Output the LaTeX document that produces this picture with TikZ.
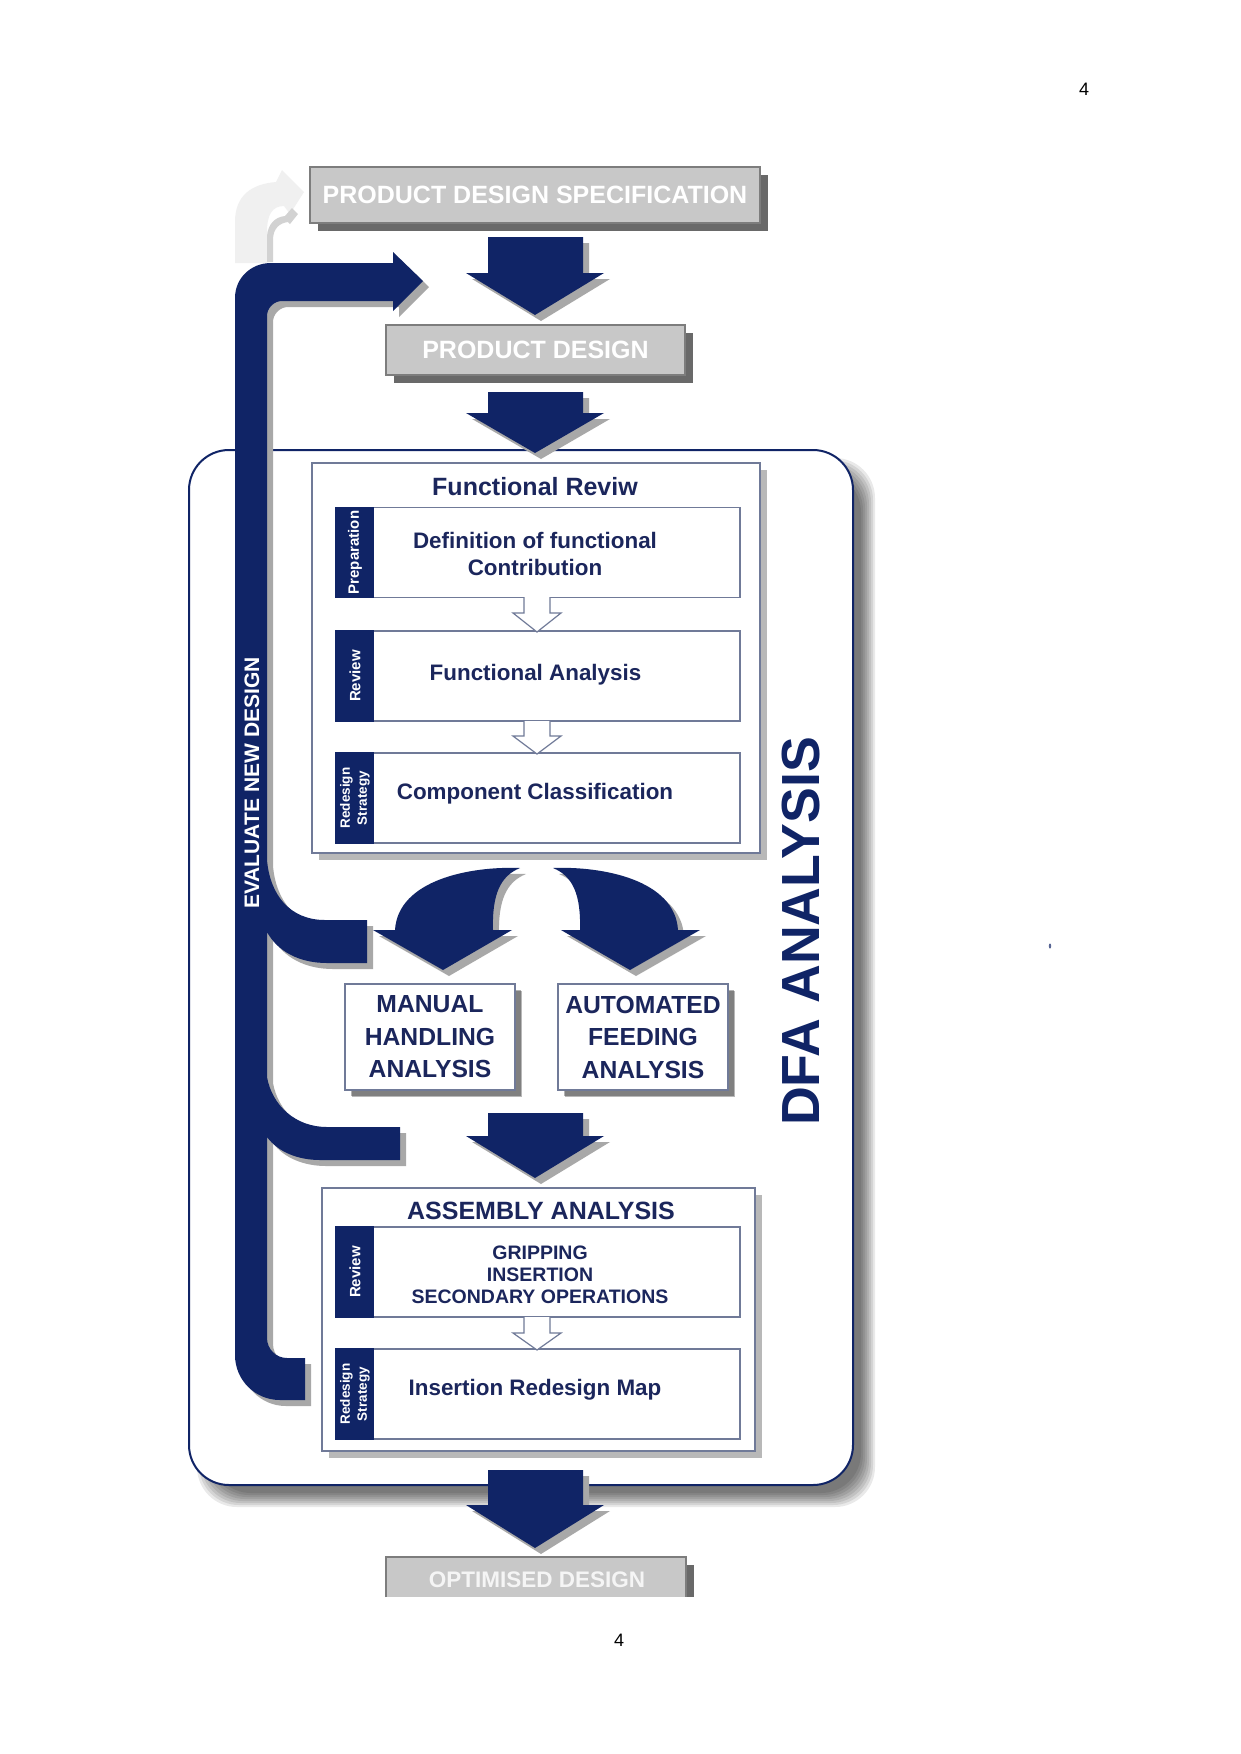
\documentclass[tikz,border=0pt]{standalone}
\usepackage{fontspec}
\setmainfont{Liberation Sans}
\usetikzlibrary{shadows,calc}

\definecolor{dfanavy}{RGB}{16,36,102}
\definecolor{dfatext}{RGB}{27,38,92}
\definecolor{boxline}{RGB}{112,122,152}
\definecolor{greyfill}{RGB}{200,200,200}
\definecolor{greyline}{RGB}{125,125,125}
\definecolor{greyshade}{RGB}{105,105,105}
\definecolor{arrowshade}{RGB}{168,168,168}

\begin{document}
\begin{tikzpicture}[
    x=1pt, y=-1pt,
    graybox/.style={draw=greyline, fill=greyfill, line width=1.2pt, inner sep=0pt, text=white,
      font=\fontsize{25}{28}\selectfont\bfseries,
      drop shadow={shadow xshift=8pt, shadow yshift=-8pt, fill=greyshade, opacity=1}},
    panel/.style={draw=boxline, fill=white, line width=1.2pt, inner sep=0pt,
      drop shadow={shadow xshift=7pt, shadow yshift=-7pt, fill=black, opacity=.28}},
    stage/.style={draw=boxline, fill=white, line width=1.2pt, inner sep=0pt,
      minimum width=404pt, minimum height=90pt},
    tabfill/.style={fill=dfanavy},
    tablabel/.style={rotate=90, text=white, font=\fontsize{15}{17}\selectfont\bfseries, align=center},
    steptext/.style={text=dfatext, font=\fontsize{22.4}{27}\selectfont\bfseries, align=center},
    heading/.style={text=dfatext, font=\fontsize{25}{28}\selectfont\bfseries},
    capsbox/.style={panel, minimum width=170pt, minimum height=106pt, align=center,
      text=dfatext, font=\fontsize{24.7}{32.5}\selectfont\bfseries,
      drop shadow={shadow xshift=6pt, shadow yshift=-6pt, fill=black, opacity=.3}},
    flow/.style={fill=dfanavy, preaction={fill=arrowshade, transform canvas={xshift=6pt, yshift=-6pt}}},
    hollow/.style={draw=boxline, fill=white, line width=1.2pt, line join=miter}
  ]
  \useasboundingbox (0,0) rectangle (1241,1754);
  \fill[white] (0,0) rectangle (1241,1754);

  % DFA frame with soft shadow
  \foreach \e in {0,2,...,14}
    \fill[black, opacity=.085, rounded corners=40pt] (211-\e,472-\e) rectangle (861+\e,1493+\e);
  \node[draw=dfanavy, line width=2pt, fill=white, rounded corners=40pt, inner sep=0pt,
        minimum width=664pt, minimum height=1035pt] (dfa) at (521,967.5) {};
  \node[rotate=90, text=dfanavy, font=\fontsize{53.7}{60}\selectfont\bfseries] (dfalabel) at (801.5,931.5) {DFA ANALYSIS};

  % grey boxes
  \node[graybox, minimum width=450pt, minimum height=56pt] (pds) at (535,195) {PRODUCT DESIGN SPECIFICATION};
  \node[graybox, minimum width=299pt, minimum height=50pt] (pd) at (535.5,350) {PRODUCT DESIGN};
  \fill[greyshade] (686,1565) rectangle (694,1597);
  \fill[greyfill] (386,1557) rectangle (686,1597);
  \draw[greyline, line width=1.2pt] (386,1597) -- (386,1557) -- (686,1557) -- (686,1597);
  \node[text=white!92!gray, font=\fontsize{22.5}{25}\selectfont\bfseries] (opt) at (537,1580) {OPTIMISED DESIGN};

  % faint return arrow
  \fill[gray!12] (235,263) -- (235,222) .. controls (235,195) and (252,184) .. (276,182) -- (282,170)
    -- (304,192) -- (290,214) -- (284,206) .. controls (272,206) and (267,215) .. (267,232) -- (267,263) -- cycle;
  \fill[gray!35] (267,262) -- (267,236) .. controls (268,224) and (275,217) .. (285,216) -- (292,208)
    -- (298,214) -- (290,224) -- (288,222) .. controls (280,223) and (273,228) .. (273,240) -- (273,262) -- cycle;

  % evaluate new design loop
  \fill[flow] (393,252) -- (423,281) -- (393,311) -- (393,301) -- (282,301)
    .. controls (274,301) and (267,308) .. (267,316) -- (267,860)
    .. controls (270,895) and (290,920) .. (325,920) -- (367,920) -- (367,963) -- (327,963)
    .. controls (300,963) and (278,952) .. (267,932) -- (267,1077)
    .. controls (272,1105) and (295,1127) .. (327,1127) -- (400,1127) -- (400,1160) -- (320,1160)
    .. controls (298,1160) and (278,1152) .. (267,1137) -- (267,1338)
    .. controls (267,1349) and (276,1358) .. (287,1358) -- (305,1358) -- (305,1400) -- (280,1400)
    .. controls (255,1400) and (235,1380) .. (235,1355) -- (235,298)
    .. controls (235,278) and (251,263) .. (271,263) -- (393,263) -- cycle;
  \node[rotate=90, text=white, font=\fontsize{21}{24}\selectfont\bfseries] (evaluate) at (252,783) {EVALUATE NEW DESIGN};

  % main flow arrows
  \foreach \ya/\yb/\yc in {237/273/315, 392/413/453, 1113/1136/1178, 1470/1505/1548}
    \fill[flow] (488,\ya) -- (583,\ya) -- (583,\yb) -- (604,\yb) -- (535,\yc) -- (466,\yb) -- (488,\yb) -- cycle;
  \fill[flow] (520,868) .. controls (470,866) and (398,880) .. (395,930) -- (373,930) -- (443,970)
    -- (512,930) -- (493,930) .. controls (492,895) and (500,876) .. (520,868) -- cycle;
  \fill[flow] (553,868) .. controls (603,866) and (675,880) .. (678,930) -- (700,930) -- (630,970)
    -- (561,930) -- (580,930) .. controls (581,895) and (573,876) .. (553,868) -- cycle;

  % functional review
  \node[panel, minimum width=448pt, minimum height=390pt] (fr) at (536,658) {};
  \node[heading] (frtitle) at (535,487) {Functional Reviw};
  \node[stage] (prep) at (538,552.5) {};
  \node[stage] (review) at (538,676) {};
  \node[stage] (strategy) at (538,798) {};
  \foreach \s in {prep,review,strategy}
    \fill[tabfill] (\s.north west) rectangle ($(\s.south west)+(39,0)$);
  \node[tablabel] at ($(prep.west)+(19.5,0)$) {Preparation};
  \node[tablabel] at ($(review.west)+(19.5,0)$) {Review};
  \node[tablabel, font=\fontsize{13.5}{17}\selectfont\bfseries] at ($(strategy.west)+(19.5,0)$) {Redesign\\Strategy};
  \node[steptext] (preptext) at (535,553.5) {Definition of functional\\Contribution};
  \node[steptext] (reviewtext) at (535.5,675) {Functional Analysis};
  \node[steptext] (strategytext) at (535,794) {Component Classification};

  \node[capsbox] (manual) at (430,1037) {MANUAL\\HANDLING\\ANALYSIS};
  \node[capsbox] (automated) at (643,1037) {AUTOMATED\\FEEDING\\ANALYSIS};

  % assembly analysis
  \node[panel, minimum width=433pt, minimum height=263pt] (asm) at (538.5,1319.5) {};
  \node[heading] (asmtitle) at (541,1211) {ASSEMBLY ANALYSIS};
  \node[stage] (grip) at (538,1272) {};
  \node[stage] (insmap) at (538,1394) {};
  \foreach \s in {grip,insmap}
    \fill[tabfill] (\s.north west) rectangle ($(\s.south west)+(39,0)$);
  \node[tablabel] at ($(grip.west)+(19.5,0)$) {Review};
  \node[tablabel, font=\fontsize{13.5}{17}\selectfont\bfseries] at ($(insmap.west)+(19.5,0)$) {Redesign\\Strategy};
  \node[steptext, font=\fontsize{19.5}{22}\selectfont\bfseries] (griptext) at (540,1275) {GRIPPING\\INSERTION\\SECONDARY OPERATIONS};
  \node[steptext] (insmaptext) at (535,1390) {Insertion Redesign Map};

  \foreach \ya/\yb/\yc in {597/613/632, 721/736/754, 1317/1333/1350}
    \draw[hollow] (524,\ya) -- (524,\yb) -- (513,\yb) -- (537,\yc) -- (561,\yb) -- (550,\yb) -- (550,\ya);

  \node[font=\fontsize{18}{20}\selectfont] (pagetop) at (1084,89) {4};
  \node[font=\fontsize{18}{20}\selectfont] (pagebottom) at (619,1640) {4};
  \fill[dfanavy!70] (1050,946) ellipse (1.2pt and 2.5pt);
\end{tikzpicture}
\end{document}
